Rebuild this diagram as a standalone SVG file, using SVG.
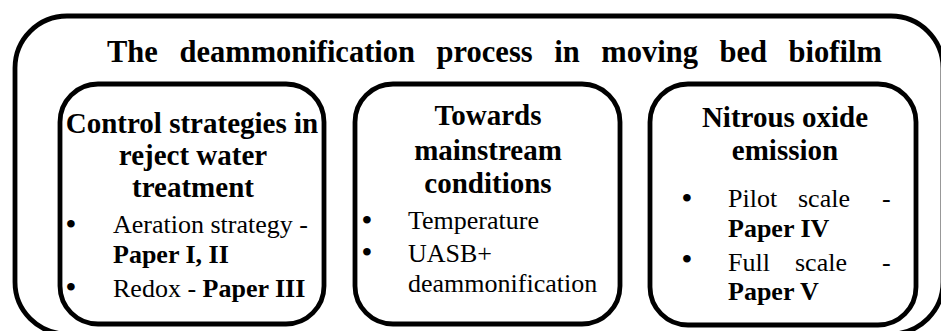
<svg xmlns="http://www.w3.org/2000/svg" width="941" height="331" viewBox="0 0 941 331">
<style>
.box{fill:#fff;stroke:#000;stroke-width:4.8}
.h{font-weight:bold;font-size:29px;text-anchor:middle}
.title{font-weight:bold;font-size:30.5px;word-spacing:14px}
.b{font-size:26px}
.bb{font-weight:bold}
.bul{font-size:28px;font-weight:bold;text-anchor:middle}
</style>
<rect width="941" height="331" fill="#fff"/>
<g id="outer" font-family="'Liberation Serif', serif" fill="#000">
<rect class="box" x="15" y="16" width="928" height="318" rx="52" ry="52"/>
<text class="title" x="107" y="62">The deammonification process in moving bed biofilm</text>
</g>
<g id="control" font-family="'Liberation Serif', serif" fill="#000">
<rect class="box" x="60" y="84" width="264" height="240" rx="38" ry="38"/>
<text class="h" x="192" y="133">Control strategies in</text>
<text class="h" x="193" y="165">reject water</text>
<text class="h" x="193" y="197">treatment</text>
<text class="bul" x="71" y="233">•</text>
<text class="bul" x="71" y="296">•</text>
<text class="b" x="113" y="233">Aeration strategy -</text>
<text class="b bb" x="113" y="263">Paper I, II</text>
<text class="b" x="113" y="297">Redox - <tspan class="bb">Paper III</tspan></text>
</g>
<g id="mainstream" font-family="'Liberation Serif', serif" fill="#000">
<rect class="box" x="355" y="84" width="265" height="240" rx="38" ry="38"/>
<text class="h" x="488" y="125">Towards</text>
<text class="h" x="488" y="160">mainstream</text>
<text class="h" x="488" y="193">conditions</text>
<text class="bul" x="367" y="229">•</text>
<text class="bul" x="367" y="261">•</text>
<text class="b" x="408" y="229">Temperature</text>
<text class="b" x="408" y="262">UASB+</text>
<text class="b" x="408" y="292">deammonification</text>
</g>
<g id="n2o" font-family="'Liberation Serif', serif" fill="#000">
<rect class="box" x="650" y="84" width="266" height="241" rx="38" ry="38"/>
<text class="h" x="785" y="127">Nitrous oxide</text>
<text class="h" x="785" y="160">emission</text>
<text class="bul" x="687" y="207">•</text>
<text class="bul" x="687" y="268">•</text>
<text class="b" y="207"><tspan x="728">Pilot</tspan><tspan x="798">scale</tspan><tspan x="882">-</tspan></text>
<text class="b bb" x="728" y="237">Paper IV</text>
<text class="b" y="271"><tspan x="728">Full</tspan><tspan x="795">scale</tspan><tspan x="882">-</tspan></text>
<text class="b bb" x="728" y="300">Paper V</text>
</g>
<g id="connectors"></g>
</svg>
